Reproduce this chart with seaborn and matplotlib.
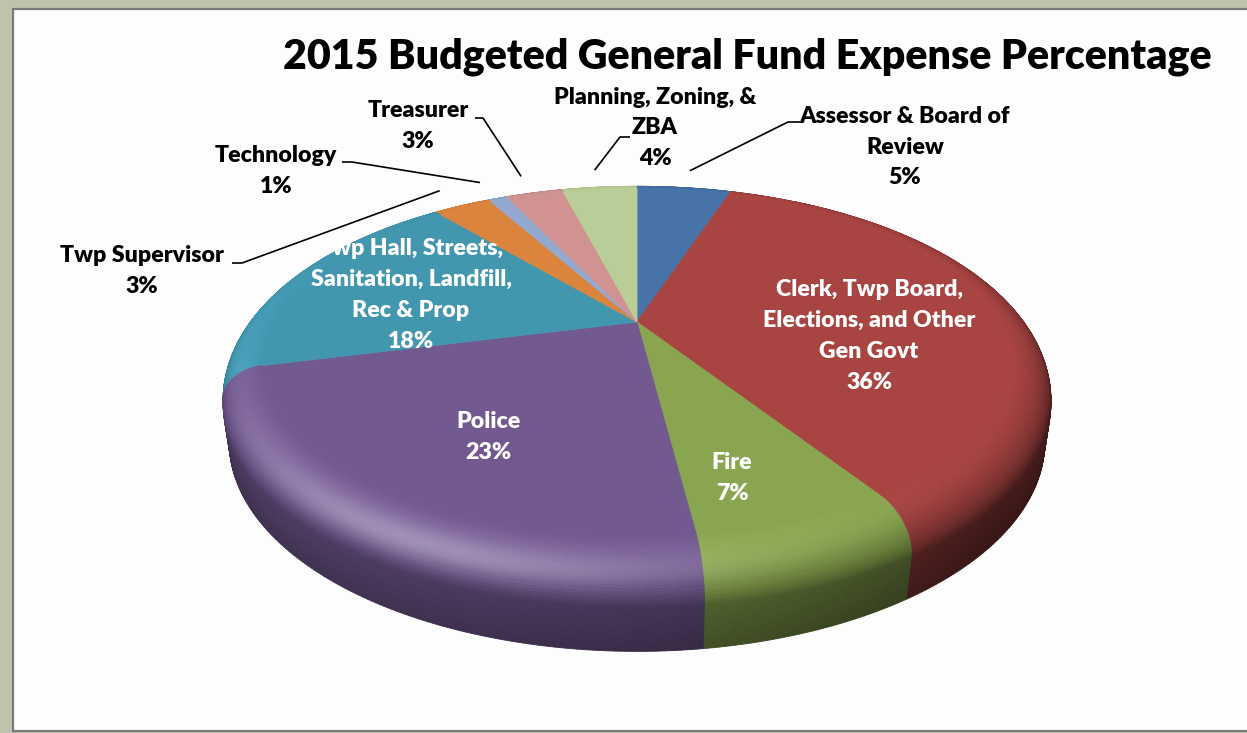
import numpy as np
import matplotlib
matplotlib.use("Agg")
import matplotlib.pyplot as plt
import seaborn as sns
from matplotlib.collections import PolyCollection
from matplotlib.patches import Polygon, Rectangle
from matplotlib.colors import to_rgb

# ---- data -------------------------------------------------------------
categories = [
    "Assessor & Board of\nReview",
    "Clerk, Twp Board,\nElections, and Other\nGen Govt",
    "Fire",
    "Police",
    "Twp Hall, Streets,\nSanitation, Landfill,\nRec & Prop",
    "Twp Supervisor",
    "Technology",
    "Treasurer",
    "Planning, Zoning, &\nZBA",
]
percentages = [5, 36, 7, 23, 18, 3, 1, 3, 4]
slice_colors = ["#4672A8", "#A84442", "#89A54E", "#71588F", "#4197AF",
                "#DB843D", "#93A9CF", "#D09392", "#B9CD96"]
title = "2015 Budgeted General Fund Expense Percentage"

# ---- figure -----------------------------------------------------------
sns.set_theme(style="white")
plt.rcParams["font.family"] = ["Lato", "DejaVu Sans"]
WEIGHT = 800

W, H = 1247, 733
fig = plt.figure(figsize=(W / 100, H / 100), dpi=100)
fig.patch.set_facecolor("#bdc4ab")
ax = fig.add_axes([0, 0, 1, 1])
ax.set_xlim(0, W)
ax.set_ylim(H, 0)
ax.axis("off")

# chart area panel
ax.add_patch(Rectangle((13, 9), W + 20, 722, facecolor="#fdfdfd",
                       edgecolor="#7b7b7b", lw=1.6, zorder=0))

# ---- perspective camera for the 3-D pie -------------------------------
ELEV = np.deg2rad(26.9)
CAM_D = 3.40
FOCAL = 1374.0
CX, CY = 637.0, 322.0
S_E, C_E = np.sin(ELEV), np.cos(ELEV)
CAM = np.array([0.0, -CAM_D * C_E, CAM_D * S_E])


def project(x, y, z):
    v = y * S_E + z * C_E
    w = y * C_E - z * S_E
    k = FOCAL / (CAM_D + w)
    return CX + k * x, CY - k * v, w


# edge profile: rounded bevel then vertical wall
BEV_R, BEV_Z, DEPTH = 0.10, 0.085, 0.19
phis = np.linspace(0, np.pi / 2, 26)
profile = []
for ph in phis:
    r = 1 - BEV_R + BEV_R * np.sin(ph)
    z = -BEV_Z * (1 - np.cos(ph))
    nr, nz = np.sin(ph) / BEV_R, np.cos(ph) / BEV_Z
    nn = np.hypot(nr, nz)
    profile.append((r, z, nr / nn, nz / nn, 0.0))
for i, z in enumerate(np.linspace(-BEV_Z, -DEPTH, 15)[1:]):
    profile.append((1.0, z, 1.0, 0.0, (i + 1) / 14))

LIGHT = np.array([-0.30, -0.30, 0.90])
LIGHT /= np.linalg.norm(LIGHT)
HALF = np.array([-0.30, -0.62, 0.74])
HALF /= np.linalg.norm(HALF)
AMB = 0.40


def shade(base, n, q):
    lam = max(np.dot(n, LIGHT), 0.0) / LIGHT[2]
    f = (AMB + (1 - AMB) * lam) * (1 - 0.18 * q)
    col = np.clip(np.array(base) * f, 0, 1)
    spec = 0.32 * max(np.dot(n, HALF), 0.0) ** 14
    return col + (1 - col) * spec


fractions = np.array(percentages, dtype=float) / sum(percentages)
bounds = np.concatenate([[0], np.cumsum(fractions)])
angles = np.pi / 2 - 2 * np.pi * bounds  # clockwise from 12 o'clock

quads, qcols, qdepth = [], [], []
for i, base_hex in enumerate(slice_colors):
    base = to_rgb(base_hex)
    t0, t1 = angles[i], angles[i + 1]
    n_ang = max(3, int(abs(t1 - t0) / np.deg2rad(0.6)))
    ts = np.linspace(t0, t1, n_ang + 1)
    for a in range(n_ang):
        ta, tb = ts[a], ts[a + 1]
        tm = 0.5 * (ta + tb)
        for p in range(len(profile) - 1):
            r0, z0, _, _, _ = profile[p]
            r1, z1, _, _, _ = profile[p + 1]
            nr = 0.5 * (profile[p][2] + profile[p + 1][2])
            nz = 0.5 * (profile[p][3] + profile[p + 1][3])
            q = 0.5 * (profile[p][4] + profile[p + 1][4])
            n = np.array([nr * np.cos(tm), nr * np.sin(tm), nz])
            n /= np.linalg.norm(n)
            rm, zm = 0.5 * (r0 + r1), 0.5 * (z0 + z1)
            P = np.array([rm * np.cos(tm), rm * np.sin(tm), zm])
            if np.dot(n, CAM - P) <= 0:
                continue
            pts = []
            for (rr, zz, tt) in [(r0, z0, ta), (r0, z0, tb), (r1, z1, tb), (r1, z1, ta)]:
                X, Y, _ = project(rr * np.cos(tt), rr * np.sin(tt), zz)
                pts.append((X, Y))
            _, _, wd = project(P[0], P[1], P[2])
            quads.append(pts)
            qcols.append(shade(base, n, q))
            qdepth.append(wd)

order = np.argsort(qdepth)[::-1]
pc = PolyCollection([quads[k] for k in order],
                    facecolors=[qcols[k] for k in order],
                    edgecolors=[qcols[k] for k in order],
                    linewidths=0.6, zorder=2)
ax.add_collection(pc)

# flat top faces
top_n = np.array([0, 0, 1.0])
for i, base_hex in enumerate(slice_colors):
    t0, t1 = angles[i], angles[i + 1]
    ts = np.linspace(t0, t1, max(4, int(abs(t1 - t0) / np.deg2rad(0.5))))
    rr = 1 - BEV_R
    pts = [project(0, 0, 0)[:2]] + [project(rr * np.cos(t), rr * np.sin(t), 0)[:2] for t in ts]
    col = shade(to_rgb(base_hex), top_n, 0.0)
    ax.add_patch(Polygon(pts, closed=True, facecolor=col, edgecolor=col,
                         lw=0.6, zorder=3))

# ---- text -------------------------------------------------------------
renderer = fig.canvas.get_renderer()


def fitted_size(text, width):
    t = ax.text(0, 0, text, fontsize=10, fontweight=WEIGHT)
    w = t.get_window_extent(renderer).width
    t.remove()
    return 10 * width / w


title_fs = fitted_size(title, 932)
ax.text(747, 68, title, fontsize=title_fs, fontweight=WEIGHT, color="black",
        ha="center", va="baseline", zorder=5)

label_fs = fitted_size("Assessor & Board of", 212)

labels = [f"{c}\n{p}%" for c, p in zip(categories, percentages)]
# label centres (pixels) and whether they sit outside the pie
label_pos = [(905, 147), (869, 336), (732, 478), (488, 437), (411, 295),
             (142, 271), (276, 171), (418, 126), (655, 128)]
outside = [True, False, False, False, False, True, True, True, True]
# leader elbows and the point where each leader meets its text
leader_elbow = {0: ((788, 122), (800, 122)), 5: ((242, 263), (232, 263)),
                6: ((352, 162), (342, 162)), 7: ((483, 118), (475, 118)),
                8: ((620, 137), (630, 137))}

for i, lab in enumerate(labels):
    x, y = label_pos[i]
    ax.text(x, y, lab, fontsize=label_fs, fontweight=WEIGHT,
            color="black" if outside[i] else "white",
            ha="center", va="center", linespacing=1.58, zorder=6)
    if i in leader_elbow:
        tm = 0.5 * (angles[i] + angles[i + 1])
        px, py, _ = project(1.07 * np.cos(tm), 1.07 * np.sin(tm), 0)
        (ex, ey), (sx, sy) = leader_elbow[i]
        ax.plot([px, ex, sx], [py, ey, sy], color="black", lw=1.2,
                solid_capstyle="butt", zorder=4)

fig.savefig("out.png", dpi=100, facecolor=fig.get_facecolor())
